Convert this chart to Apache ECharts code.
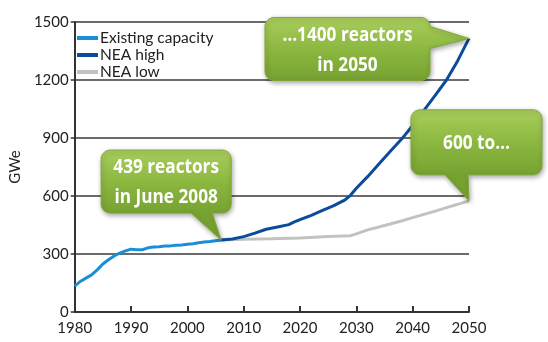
<!DOCTYPE html>
<html>
<head>
<meta charset="utf-8">
<script src="https://cdn.jsdelivr.net/npm/echarts@6/dist/echarts.min.js"></script>
<style>
html,body{margin:0;padding:0;background:#fff;}
#c{width:548px;height:342px;}
</style>
</head>
<body>
<div id="c"></div>
<script>
// ---- Data ----
const seriesNames = ['Existing capacity', 'NEA high', 'NEA low'];
const existingYears = [1980,1981,1982,1983,1984,1985,1986,1987,1988,1989,1990,1991,1992,1993,1994,1995,1996,1997,1998,1999,2000,2001,2002,2003,2004,2005,2006];
const existingValues = [134,158,175,192,218,248,270,290,305,316,325,322,322,332,336,338,341,342,345,347,350,353,358,362,365,369,372];
const highYears = [2006,2008,2010,2012,2014,2016,2018,2019,2020,2022,2024,2026,2028,2029,2030,2032,2034,2036,2038,2040,2042,2044,2046,2048,2050];
const highValues = [372,378,390,408,428,440,452,466,478,500,526,550,580,605,640,700,765,830,893,965,1043,1120,1200,1300,1415];
const lowYears = [2006,2010,2015,2020,2025,2029,2030,2032,2034,2036,2038,2040,2042,2044,2046,2048,2050];
const lowValues = [372,376,379,383,390,395,404,425,440,455,471,488,505,522,540,557,575];
const xTicks = [1980,1990,2000,2010,2020,2030,2040,2050];
const yTicks = [0,300,600,900,1200,1500];
const yAxisName = 'GWe';
const callouts = [
  {text: '439 reactors\nin June 2008', series: 0, index: existingYears.length - 1},
  {text: '\u20261400 reactors\nin 2050', series: 1, index: highYears.length - 1},
  {text: '600 to\u2026', series: 2, index: lowYears.length - 1}
];

const zip = (xs, ys) => xs.map((x, i) => [x, ys[i]]);
const colors = ['#1b8fd6', '#0b4b9c', '#c2c2c2'];
const labelFont = 'Lato, "DejaVu Sans", sans-serif';

const chart = echarts.init(document.getElementById('c'), null, {renderer: 'canvas'});
const option = {
  animation: false,
  grid: {left: 64, right: 79, top: 22, bottom: 30, containLabel: false},
  legend: {
    orient: 'vertical', left: 72, top: 25,
    itemWidth: 21, itemHeight: 4, itemGap: 1,
    icon: 'rect',
    textStyle: {fontFamily: labelFont, fontSize: 15.5, color: '#222', padding: [0,0,0,-3]},
    data: seriesNames
  },
  xAxis: {
    type: 'value', min: xTicks[0], max: xTicks[xTicks.length-1], interval: 10,
    axisLine: {show: true, lineStyle: {color: '#333', width: 2}},
    axisTick: {show: true, inside: true, length: 6, lineStyle: {color: '#333', width: 2}},
    axisLabel: {fontFamily: labelFont, fontSize: 15, color: '#222', margin: 9, formatter: v => String(v)},
    splitLine: {show: false}
  },
  yAxis: {
    type: 'value', min: yTicks[0], max: yTicks[yTicks.length-1], interval: 300,
    name: yAxisName, nameLocation: 'middle', nameGap: 48, nameRotate: 90,
    nameTextStyle: {fontFamily: labelFont, fontSize: 15, color: '#222'},
    axisLine: {show: true, lineStyle: {color: '#333', width: 2}},
    axisTick: {show: true, inside: false, length: 4, lineStyle: {color: '#333', width: 1.5}},
    axisLabel: {fontFamily: labelFont, fontSize: 15, color: '#222', margin: 6, formatter: v => String(v)},
    splitLine: {show: true, lineStyle: {color: '#3a3a3a', width: 1.6}}
  },
  series: [
    {name: seriesNames[0], type: 'line', data: zip(existingYears, existingValues), showSymbol: false, symbol: 'none',
     lineStyle: {color: colors[0], width: 3}, itemStyle: {color: colors[0]}, z: 3},
    {name: seriesNames[1], type: 'line', data: zip(highYears, highValues), showSymbol: false, symbol: 'none',
     lineStyle: {color: colors[1], width: 3}, itemStyle: {color: colors[1]}, z: 3},
    {name: seriesNames[2], type: 'line', data: zip(lowYears, lowValues), showSymbol: false, symbol: 'none',
     lineStyle: {color: colors[2], width: 3}, itemStyle: {color: colors[2]}, z: 2}
  ]
};
chart.setOption(option);

// ---- Callouts anchored to data points ----
function calloutPoints(x, y, w, h, r, side, p1, tip, p2) {
  const pts = [];
  const arc = (cx, cy, a0, a1) => {
    for (let i = 0; i <= 6; i++) {
      const a = a0 + (a1 - a0) * i / 6;
      pts.push([cx + r * Math.cos(a), cy + r * Math.sin(a)]);
    }
  };
  arc(x + r, y + r, Math.PI, 1.5 * Math.PI);
  arc(x + w - r, y + r, 1.5 * Math.PI, 2 * Math.PI);
  if (side === 'right') { pts.push([x + w, p1]); pts.push(tip); pts.push([x + w, p2]); }
  arc(x + w - r, y + h - r, 0, 0.5 * Math.PI);
  if (side === 'bottom') { pts.push([p2, y + h]); pts.push(tip); pts.push([p1, y + h]); }
  arc(x + r, y + h - r, 0.5 * Math.PI, Math.PI);
  return pts;
}

const seriesData = [zip(existingYears, existingValues), zip(highYears, highValues), zip(lowYears, lowValues)];
const layouts = [
  {dx: -120, dy: -90, w: 130, h: 63, side: 'bottom', p1: -30, p2: -9},
  {dx: -204, dy: -21, w: 165, h: 63, side: 'right', p1: -12, p2: 10},
  {dx: -58, dy: -91, w: 131, h: 65, side: 'bottom', p1: -24, p2: -1}
];
const graphics = [];
callouts.forEach((c, i) => {
  const tip = chart.convertToPixel({gridIndex: 0}, seriesData[c.series][c.index]);
  const L = layouts[i];
  const bx = tip[0] + L.dx, by = tip[1] + L.dy;
  const p1 = L.side === 'right' ? tip[1] + L.p1 : tip[0] + L.p1;
  const p2 = L.side === 'right' ? tip[1] + L.p2 : tip[0] + L.p2;
  const pts = calloutPoints(bx, by, L.w, L.h, 9, L.side, p1, tip, p2);
  graphics.push({
    type: 'polygon', z: 100,
    shape: {points: pts},
    style: {
      fill: new echarts.graphic.LinearGradient(0, by, 0, by + L.h, [
        {offset: 0, color: '#a9cd5c'}, {offset: 0.5, color: '#8cb840'}, {offset: 1, color: '#76a231'}
      ], true),
      stroke: '#7fa83a', lineWidth: 1,
      shadowBlur: 5, shadowColor: 'rgba(0,0,0,0.35)', shadowOffsetX: 1, shadowOffsetY: 2
    }
  });
  graphics.push({
    type: 'text', z: 101,
    x: bx + L.w / 2, y: by + L.h / 2 + 1, scaleX: 0.86,
    style: {
      text: c.text, fill: '#ffffff',
      font: 'bold 20px "Open Sans", sans-serif',
      align: 'center', verticalAlign: 'middle', lineHeight: 30,
      shadowBlur: 2, shadowColor: 'rgba(40,60,10,0.8)', shadowOffsetX: 1, shadowOffsetY: 1
    }
  });
});
chart.setOption({graphic: graphics});
</script>
</body>
</html>
